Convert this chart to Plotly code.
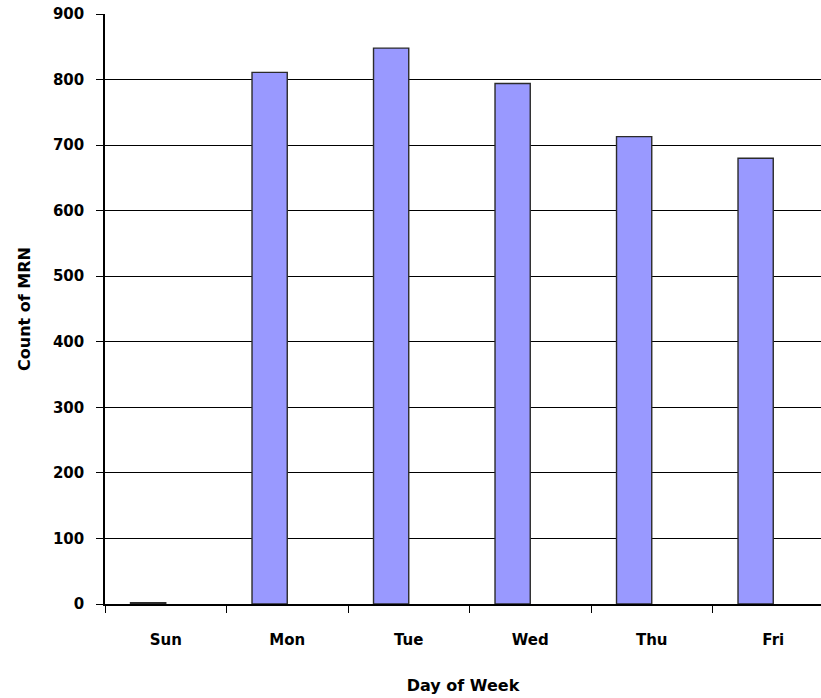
import plotly.graph_objects as go

days = ["Sun", "Mon", "Tue", "Wed", "Thu", "Fri"]
counts = [2, 811, 848, 794, 713, 680]
y_ticks = [0, 100, 200, 300, 400, 500, 600, 700, 800, 900]

FONT = "DejaVu Sans"
bar_w = 0.29

fig = go.Figure()
fig.add_trace(go.Bar(
    x=days,
    y=counts,
    width=bar_w,
    offset=-bar_w,
    marker=dict(color="#9999FF", line=dict(color="#2b2b2b", width=1.4)),
    hoverinfo="x+y",
))

fig.update_layout(
    width=821,
    height=698,
    margin=dict(l=105, r=0, t=14, b=94),
    paper_bgcolor="white",
    plot_bgcolor="white",
    showlegend=False,
    font=dict(family=FONT, color="black"),
)

fig.update_xaxes(
    type="category",
    range=[-0.5, 5.393],
    showgrid=False,
    showline=True,
    linecolor="black",
    linewidth=1.5,
    ticks="outside",
    tickson="boundaries",
    ticklen=7,
    tickcolor="black",
    tickwidth=1,
    tickfont=dict(family=FONT, size=15, color="black", weight="bold"),
    ticklabelstandoff=21,
    title=dict(text="Day of Week", font=dict(family=FONT, size=16, color="black", weight="bold"),
               standoff=32),
)

fig.update_yaxes(
    range=[0, 900],
    tickvals=y_ticks,
    showgrid=True,
    gridcolor="black",
    gridwidth=1,
    showline=True,
    linecolor="black",
    linewidth=1.5,
    ticks="outside",
    ticklen=7,
    tickcolor="black",
    tickwidth=1,
    tickfont=dict(family=FONT, size=15, color="black", weight="bold"),
    ticklabelstandoff=9,
    zeroline=False,
    title=dict(text="Count of MRN", font=dict(family=FONT, size=16, color="black", weight="bold"),
               standoff=18),
)

fig.write_html("out.html")
